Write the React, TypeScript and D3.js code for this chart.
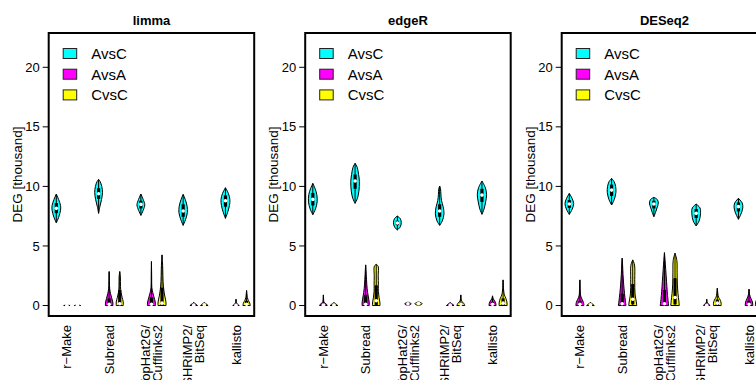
import React from "react";
import * as d3 from "d3";

const panelTitles = ["limma", "edgeR", "DESeq2"];
const pipelines = [["r\u2212Make"], ["Subread"], ["TopHat2G/", "Cufflinks2"], ["SHRiMP2/", "BitSeq"], ["kallisto"]];
const comparisons = ["AvsC", "AvsA", "CvsC"];
const compColors = ["#00FFFF", "#FF00FF", "#FFFF00"];
const yTicks = [0, 5, 10, 15, 20];
const yLimits = [0, 22];
const xLimits = [1, 19];

// each violin: knots [value (thousand DEG), half-width], box [q1, median, q3]
const limmaKnots = [
  [[6.95, 0], [7.4, 0.22], [8.0, 0.4], [8.4, 0.4], [8.9, 0.22], [9.36, 0]],
  [[0, 0.3], [0.05, 0]],
  [[0, 0.3], [0.05, 0]],
  [[7.74, 0], [8.3, 0.12], [8.9, 0.28], [9.5, 0.37], [10.0, 0.3], [10.4, 0.15], [10.59, 0]],
  [[0, 0.36], [0.3, 0.34], [0.6, 0.25], [1.0, 0.13], [1.4, 0.05], [2.0, 0.025], [2.85, 0]],
  [[0, 0.33], [0.3, 0.33], [0.7, 0.22], [1.1, 0.12], [1.6, 0.07], [2.4, 0.06], [2.85, 0]],
  [[7.57, 0], [8.0, 0.22], [8.45, 0.37], [8.9, 0.22], [9.36, 0]],
  [[0, 0.38], [0.3, 0.36], [0.7, 0.24], [1.1, 0.12], [1.5, 0.04], [2.5, 0.02], [3.69, 0]],
  [[0, 0.38], [0.3, 0.37], [0.8, 0.26], [1.3, 0.17], [2.0, 0.1], [3.0, 0.07], [3.7, 0.04], [4.25, 0]],
  [[6.73, 0], [7.2, 0.22], [7.8, 0.4], [8.3, 0.38], [8.9, 0.2], [9.33, 0]],
  [[0, 0.36], [0.08, 0.25], [0.18, 0.1], [0.26, 0]],
  [[0, 0.36], [0.08, 0.26], [0.17, 0.12], [0.25, 0]],
  [[7.32, 0], [7.8, 0.2], [8.4, 0.38], [8.9, 0.42], [9.4, 0.28], [9.89, 0]],
  [[0, 0.3], [0.05, 0.25], [0.15, 0.1], [0.25, 0.03], [0.53, 0]],
  [[0, 0.35], [0.2, 0.3], [0.45, 0.15], [0.7, 0.06], [1.0, 0.03], [1.26, 0]],
];
const limmaBoxes = [
  [7.75, 8.16, 8.6], [0, 0.02, 0.03], [0, 0.02, 0.03],
  [8.95, 9.39, 9.85], [0, 0.1, 0.6], [0, 0.15, 1.3],
  [8.15, 8.49, 8.8], [0, 0.1, 0.7], [0, 0.2, 1.5],
  [7.45, 7.93, 8.5], [0, 0.03, 0.1], [0, 0.05, 0.1],
  [8.3, 8.8, 9.25], [0, 0.02, 0.08], [0, 0.1, 0.4],
];

const edgeRKnots = [
  [[7.63, 0], [8.1, 0.25], [8.7, 0.41], [9.3, 0.38], [9.8, 0.22], [10.25, 0]],
  [[0, 0.36], [0.1, 0.3], [0.2, 0.15], [0.35, 0.04], [0.6, 0.02], [0.89, 0]],
  [[0, 0.36], [0.08, 0.26], [0.17, 0.12], [0.25, 0]],
  [[8.58, 0], [9.0, 0.22], [9.6, 0.36], [10.4, 0.41], [11.0, 0.33], [11.6, 0.2], [11.94, 0]],
  [[0, 0.34], [0.3, 0.33], [0.8, 0.24], [1.4, 0.14], [2.2, 0.08], [3.0, 0.03], [3.41, 0]],
  [[0, 0.36], [0.3, 0.34], [0.7, 0.26], [1.2, 0.2], [1.7, 0.2], [2.5, 0.19], [3.3, 0.18], [3.46, 0]],
  [[6.34, 0], [6.6, 0.27], [6.95, 0.37], [7.3, 0.27], [7.51, 0]],
  [[0.02, 0], [0.08, 0.25], [0.15, 0.3], [0.22, 0.2], [0.28, 0]],
  [[0.02, 0], [0.08, 0.28], [0.16, 0.34], [0.24, 0.22], [0.3, 0]],
  [[6.73, 0], [7.1, 0.25], [7.7, 0.41], [8.3, 0.33], [8.8, 0.18], [9.3, 0.12], [9.8, 0.08], [10.03, 0]],
  [[0, 0.36], [0.08, 0.26], [0.17, 0.12], [0.25, 0]],
  [[0, 0.38], [0.15, 0.3], [0.3, 0.15], [0.45, 0.05], [0.89, 0]],
  [[7.66, 0], [8.1, 0.2], [8.7, 0.35], [9.3, 0.44], [9.9, 0.32], [10.45, 0]],
  [[0, 0.34], [0.2, 0.3], [0.4, 0.2], [0.55, 0.08], [0.81, 0]],
  [[0, 0.38], [0.3, 0.36], [0.6, 0.26], [0.9, 0.12], [1.3, 0.05], [2.15, 0]],
];
const edgeRBoxes = [
  [8.4, 8.91, 9.45], [0, 0.03, 0.15], [0, 0.03, 0.1],
  [9.8, 10.45, 11.0], [0, 0.1, 0.9], [0.05, 0.4, 1.7],
  [6.75, 6.93, 7.12], [0.1, 0.14, 0.18], [0.1, 0.16, 0.2],
  [7.45, 7.93, 8.5], [0, 0.03, 0.1], [0, 0.1, 0.25],
  [8.7, 9.27, 9.8], [0, 0.1, 0.3], [0, 0.2, 0.6],
];

const deseq2Knots = [
  [[7.65, 0], [8.1, 0.28], [8.55, 0.41], [9.0, 0.26], [9.41, 0]],
  [[0, 0.38], [0.25, 0.34], [0.5, 0.22], [0.8, 0.08], [1.2, 0.04], [2.15, 0]],
  [[0, 0.36], [0.08, 0.26], [0.17, 0.12], [0.25, 0]],
  [[8.44, 0], [8.9, 0.25], [9.5, 0.41], [10.0, 0.38], [10.4, 0.24], [10.67, 0]],
  [[0, 0.36], [0.4, 0.3], [1.0, 0.22], [1.8, 0.14], [2.6, 0.08], [3.4, 0.04], [3.97, 0]],
  [[0, 0.38], [0.3, 0.34], [0.8, 0.24], [1.3, 0.2], [2.2, 0.19], [3.4, 0.17], [3.83, 0]],
  [[7.46, 0], [7.8, 0.15], [8.2, 0.3], [8.6, 0.42], [8.9, 0.32], [9.08, 0]],
  [[0, 0.4], [0.5, 0.33], [1.2, 0.26], [2.0, 0.2], [3.0, 0.12], [3.8, 0.06], [4.44, 0]],
  [[0, 0.4], [0.4, 0.36], [1.0, 0.28], [1.8, 0.22], [2.8, 0.2], [3.8, 0.17], [4.39, 0]],
  [[6.68, 0], [7.1, 0.28], [7.7, 0.41], [8.2, 0.36], [8.52, 0]],
  [[0, 0.3], [0.1, 0.22], [0.2, 0.08], [0.3, 0.02], [0.53, 0]],
  [[0, 0.36], [0.2, 0.36], [0.45, 0.28], [0.7, 0.12], [1.0, 0.05], [1.45, 0]],
  [[7.24, 0], [7.7, 0.25], [8.2, 0.41], [8.6, 0.36], [9.0, 0]],
  [[0, 0.36], [0.3, 0.32], [0.6, 0.18], [0.9, 0.06], [1.37, 0]],
  [[0, 0.4], [0.3, 0.36], [0.6, 0.25], [1.0, 0.1], [1.5, 0]],
];
const deseq2Boxes = [
  [8.2, 8.52, 8.85], [0, 0.1, 0.4], [0, 0.05, 0.1],
  [9.2, 9.69, 10.15], [0, 0.15, 1.0], [0.1, 0.53, 1.8],
  [8.15, 8.52, 8.8], [0, 0.15, 1.3], [0.1, 0.67, 2.3],
  [7.35, 7.74, 8.1], [0, 0.02, 0.08], [0, 0.2, 0.5],
  [7.9, 8.3, 8.65], [0, 0.1, 0.4], [0, 0.2, 0.6],
];

const panelKnots = [limmaKnots, edgeRKnots, deseq2Knots];
const panelBoxes = [limmaBoxes, edgeRBoxes, deseq2Boxes];

const W = 756;
const H = 380;
const panelLefts = [48.7, 305.2, 561.7];
const panelW = 205.5;
const panelTop = 33;
const panelBottom = 316;
const FONT = "'Liberation Sans', Arial, Helvetica, sans-serif";

function expand([a, b]: number[]) {
  const d = (b - a) * 0.04;
  return [a - d, b + d];
}

function Panel({ idx }: { idx: number }) {
  const left = panelLefts[idx];
  const x = d3.scaleLinear().domain(expand(xLimits)).range([left, left + panelW]);
  const y = d3.scaleLinear().domain(expand(yLimits)).range([panelBottom, panelTop]);
  const knotsAll = panelKnots[idx];
  const boxes = panelBoxes[idx];
  const violins = knotsAll.map((knots, i) => {
    const p = Math.floor(i / 3);
    const c = i % 3;
    const pos = p * 4 + c + 1;
    const area = d3
      .area<number[]>()
      .y((d) => y(d[0]))
      .x0((d) => x(pos - d[1]))
      .x1((d) => x(pos + d[1]))
      .curve(d3.curveCatmullRom.alpha(0.5));
    const [q1, med, q3] = boxes[i];
    const vmin = knots[0][0];
    const vmax = knots[knots.length - 1][0];
    const cx = x(pos);
    return (
      <g key={i}>
        <path d={area(knots) || ""} fill={compColors[c]} stroke="#000" strokeWidth={1} />
        <line x1={cx} x2={cx} y1={y(vmin)} y2={y(vmax)} stroke="#000" strokeWidth={1} />
        <rect x={cx - 1.6} width={3.2} y={y(q3)} height={Math.max(0.5, y(q1) - y(q3))} fill="#000" />
        <circle cx={cx} cy={y(med)} r={1.8} fill="#fff" />
      </g>
    );
  });

  return (
    <g>
      <text x={left + panelW / 2} y={25} textAnchor="middle" fontWeight="bold" fontSize={13} fontFamily={FONT}>
        {panelTitles[idx]}
      </text>
      {violins}
      <rect x={left} y={panelTop} width={panelW} height={panelBottom - panelTop} fill="none" stroke="#000" strokeWidth={2} />
      {yTicks.map((t) => (
        <g key={t}>
          <line x1={left - 6} x2={left} y1={y(t)} y2={y(t)} stroke="#000" strokeWidth={1} />
          <text x={left - 9} y={y(t)} dy="0.35em" textAnchor="end" fontSize={13} fontFamily={FONT}>
            {t}
          </text>
        </g>
      ))}
      <text
        transform={`translate(${left - 27},${(panelTop + panelBottom) / 2}) rotate(-90)`}
        textAnchor="middle"
        fontSize={13.5}
        fontFamily={FONT}
      >
        DEG [thousand]
      </text>
      {pipelines.map((lines, p) => {
        const gx = x(p * 4 + 2);
        return lines.map((ln, k) => {
          const off = lines.length === 1 ? 0 : k === 0 ? -6 : 6;
          return (
            <text
              key={`${p}-${k}`}
              transform={`translate(${gx + off + 4.6},${325}) rotate(-90)`}
              textAnchor="end"
              fontSize={13}
              fontFamily={FONT}
            >
              {ln}
            </text>
          );
        });
      })}
      {comparisons.map((name, c) => {
        const cy = 53.5 + c * 20.7;
        return (
          <g key={name}>
            <rect x={left + 14.5} y={cy - 5} width={13.5} height={10} fill={compColors[c]} stroke="#222" strokeWidth={1} />
            <text x={left + 42.5} y={cy} dy="0.36em" fontSize={15} fontFamily={FONT}>
              {name}
            </text>
          </g>
        );
      })}
    </g>
  );
}

export default function App() {
  return (
    <svg
      width={W}
      height={H}
      viewBox={`0 0 ${W} ${H}`}
      style={{ position: "absolute", left: 0, top: 0, background: "#fff" }}
    >
      <rect x={0} y={0} width={W} height={H} fill="#fff" />
      {panelTitles.map((_, i) => (
        <Panel key={i} idx={i} />
      ))}
    </svg>
  );
}
